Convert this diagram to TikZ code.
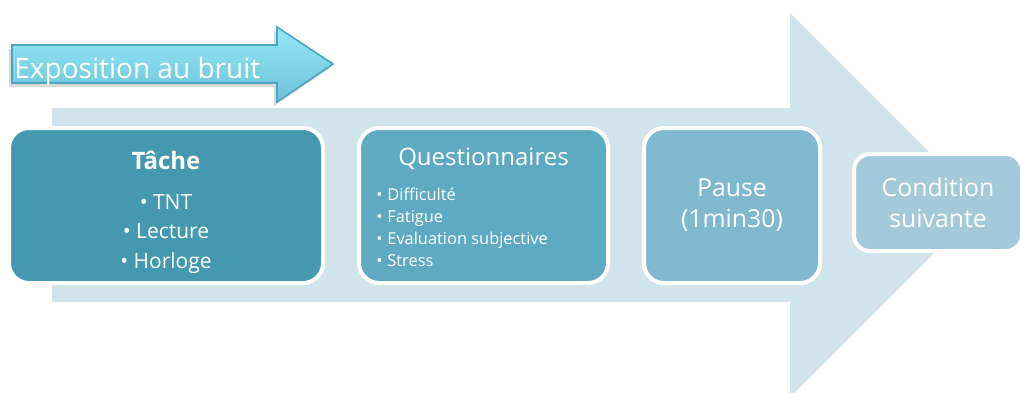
\documentclass[tikz,border=0pt]{standalone}
\usepackage{fontspec}
\setmainfont{Open Sans}
\usetikzlibrary{shadows}
\definecolor{flow}{HTML}{D1E4EB}
\definecolor{tachefill}{HTML}{4499B1}
\definecolor{questfill}{HTML}{5FAAC3}
\definecolor{pausefill}{HTML}{80B9CF}
\definecolor{condfill}{HTML}{A3CADB}
\definecolor{expotop}{HTML}{94E8F8}
\definecolor{expobot}{HTML}{6EC2D8}
\definecolor{expoline}{HTML}{4AA6C0}
\tikzset{stepbox/.style={draw=white, line width=2pt, rounded corners=10pt, text=white,
    align=center, inner sep=0pt},
  steptext/.style={text=white, inner sep=0pt, align=center}}

\begin{document}
\begin{tikzpicture}[x=0.5pt,y=-0.5pt]
  \useasboundingbox (0,0) rectangle (1020,392);
  % big flow arrow behind the steps
  \fill[flow] (52,108) -- (790,108) -- (790,13) -- (982,205) -- (790,397)
    -- (790,302) -- (52,302) -- cycle;
  % noise exposure arrow
  \path[top color=expotop, bottom color=expobot, draw=expoline, line width=0.8pt,
    drop shadow={shadow xshift=-1.5pt, shadow yshift=-2pt, opacity=0.3}]
    (12,45) -- (277,45) -- (277,27) -- (333,64) -- (277,102) -- (277,83) -- (12,83) -- cycle;
  \node[steptext, anchor=base west, font=\fontsize{14}{16}\selectfont] (expo) at (14,78)
    {Exposition au bruit};
  % the steps
  \node[stepbox, fill=tachefill, minimum width=157pt, minimum height=77.5pt] (tache) at (166,205.5) {};
  \node[steptext, font=\fontsize{10.5}{14.75}\selectfont] (tacheT) at (166,212)
    {{\fontsize{12}{14}\selectfont\bfseries Tâche}\\[5.25pt] • TNT\\ • Lecture\\ • Horloge};
  \node[stepbox, fill=questfill, minimum width=124.5pt, minimum height=77.5pt] (quest) at (483.5,205.5) {};
  \node[steptext, anchor=base, font=\fontsize{12}{14}\selectfont] (questT) at (483.5,165) {Questionnaires};
  \node[steptext, anchor=base west, align=left, font=\fontsize{8.2}{11}\selectfont] (questL) at (376,266)
    {\makebox[5.5pt][l]{•}Difficulté\\ \makebox[5.5pt][l]{•}Fatigue\\
     \makebox[5.5pt][l]{•}Evaluation subjective\\ \makebox[5.5pt][l]{•}Stress};
  \node[stepbox, fill=pausefill, minimum width=88pt, minimum height=77.5pt,
    font=\fontsize{12.4}{15.5}\selectfont] (pause) at (732,205.5) {Pause\\(1min30)};
  \node[stepbox, fill=condfill, rounded corners=8pt, minimum width=84pt, minimum height=48.5pt,
    font=\fontsize{12.4}{15.5}\selectfont] (cond) at (938,202.5) {Condition\\suivante};
\end{tikzpicture}
\end{document}
